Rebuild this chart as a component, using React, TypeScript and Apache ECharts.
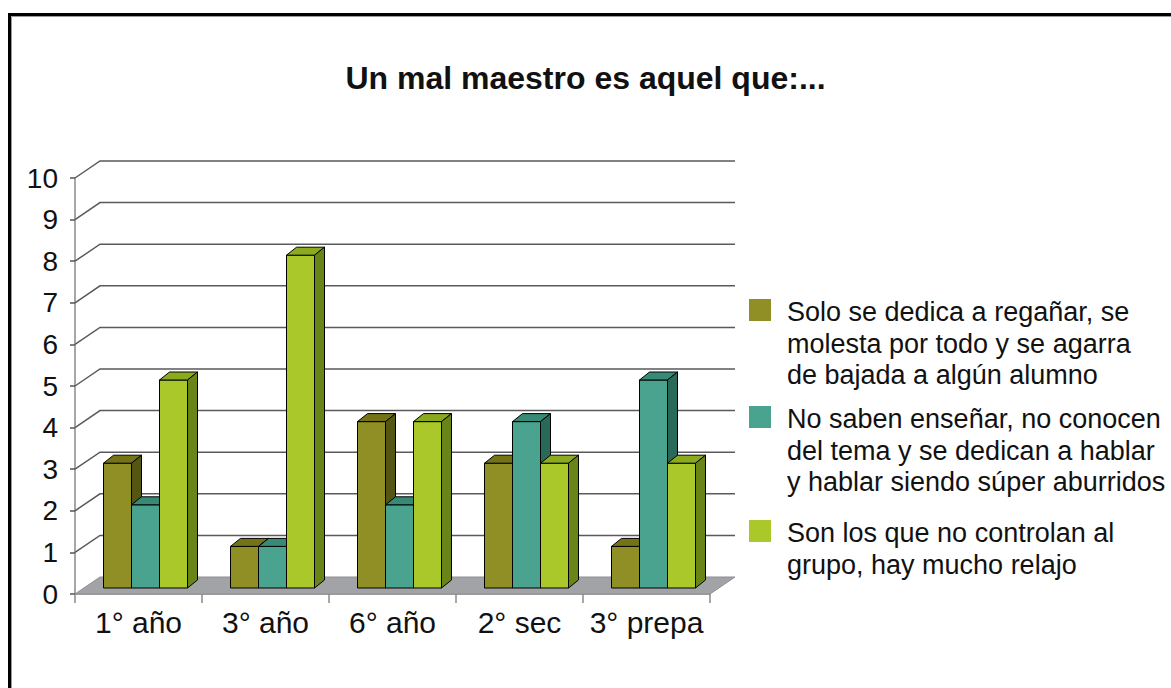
import React, { useEffect, useRef } from "react";
import * as echarts from "echarts";

const title = "Un mal maestro es aquel que:...";
const categories = ["1° año", "3° año", "6° año", "2° sec", "3° prepa"];
const yTicks = [0, 1, 2, 3, 4, 5, 6, 7, 8, 9, 10];
const seriesNames = [
  "Solo se dedica a regañar, se\nmolesta por todo y se agarra\nde bajada a algún alumno",
  "No saben enseñar, no conocen\ndel tema y se dedican a hablar\ny hablar siendo súper aburridos",
  "Son los que no controlan al\ngrupo, hay mucho relajo",
];
const regañarValues = [3, 1, 4, 3, 1];
const noSabenValues = [2, 1, 2, 4, 5];
const noControlanValues = [5, 8, 4, 3, 3];
const seriesValues = [regañarValues, noSabenValues, noControlanValues];
const frontColors = ["#8f8f26", "#4aa38e", "#aac82a"];
const topColors = ["#747416", "#378a76", "#8caa1d"];
const sideColors = ["#565614", "#28695a", "#6a8517"];

const FONT = "Liberation Sans, Arial, sans-serif";
const DEPTH_X = 25;
const DEPTH_Y = -17;
const BAR_FRAC = 28 / 127;
const BAR_SHIFT_X = 7;
const BAR_SHIFT_Y = 6;
const BAR_DX = 10;
const BAR_DY = -8;

function makeBarRender(i: number) {
  return (params: any, api: any) => {
    const c = api.value(0);
    const v = api.value(1);
    const base = api.coord([c, 0]);
    const top = api.coord([c, v]);
    const band = api.size([1, 0])[0];
    const bw = band * BAR_FRAC;
    const x0 = base[0] - 1.5 * bw + i * bw + BAR_SHIFT_X;
    const x1 = x0 + bw;
    const yb = base[1] - BAR_SHIFT_Y;
    const yt = top[1] - BAR_SHIFT_Y;
    const stroke = { stroke: "#000", lineWidth: 1, lineJoin: "round" };
    return {
      type: "group",
      children: [
        {
          type: "rect",
          shape: { x: x0, y: yt, width: bw, height: yb - yt },
          style: { fill: frontColors[i], ...stroke },
        },
        {
          type: "polygon",
          shape: {
            points: [
              [x0, yt],
              [x1, yt],
              [x1 + BAR_DX, yt + BAR_DY],
              [x0 + BAR_DX, yt + BAR_DY],
            ],
          },
          style: { fill: topColors[i], ...stroke },
        },
        {
          type: "polygon",
          shape: {
            points: [
              [x1, yt],
              [x1 + BAR_DX, yt + BAR_DY],
              [x1 + BAR_DX, yb + BAR_DY],
              [x1, yb],
            ],
          },
          style: { fill: sideColors[i], ...stroke },
        },
      ],
    };
  };
}

function frameRender(params: any, api: any) {
  const v = api.value(1);
  const cs = params.coordSys;
  const L = cs.x;
  const R = cs.x + cs.width;
  const y = api.coord([0, v])[1];
  if (v === 0) {
    return {
      type: "polygon",
      shape: {
        points: [
          [L, y],
          [R, y],
          [R + DEPTH_X, y + DEPTH_Y],
          [L + DEPTH_X, y + DEPTH_Y],
        ],
      },
      style: { fill: "#a2a3a7", stroke: "#8e8f93", lineWidth: 1 },
    };
  }
  return {
    type: "polyline",
    shape: {
      points: [
        [L, y],
        [L + DEPTH_X, y + DEPTH_Y],
        [R + DEPTH_X, y + DEPTH_Y],
      ],
    },
    style: { fill: "none", stroke: "#5a5a5a", lineWidth: 1.5 },
  };
}

export default function App() {
  const ref = useRef<HTMLDivElement>(null);
  useEffect(() => {
    document.body.style.margin = "0";
    const chart = echarts.init(ref.current!, null, { renderer: "svg" });
    const legendTops = [296, 403, 517];
    const legendGraphics: any[] = [];
    seriesNames.forEach((name, i) => {
      legendGraphics.push({
        type: "rect",
        shape: { x: 749, y: legendTops[i] + 3, width: 22, height: 22 },
        style: { fill: frontColors[i] },
      });
      legendGraphics.push({
        type: "text",
        x: 787,
        y: legendTops[i],
        style: {
          text: name,
          font: `27px ${FONT}`,
          fill: "#111",
          lineHeight: 31.7,
          verticalAlign: "top",
        },
      });
    });
    const option: any = {
      animation: false,
      backgroundColor: "#fff",
      title: {
        text: title,
        left: "center",
        top: 57,
        textStyle: { fontSize: 32, fontWeight: "bold", fontFamily: FONT, color: "#111" },
      },
      grid: { left: 75, top: 178, width: 635, height: 416 },
      xAxis: {
        type: "category",
        data: categories,
        axisLine: { show: true, lineStyle: { color: "#8a8a8a", width: 1.5 } },
        axisTick: { show: true, length: 9, lineStyle: { color: "#8a8a8a", width: 1.5 } },
        axisLabel: { interval: 0, fontSize: 30, fontFamily: FONT, color: "#111", margin: 13 },
        splitLine: { show: false },
      },
      yAxis: {
        type: "value",
        min: 0,
        max: 10,
        interval: 1,
        axisLine: { show: true, lineStyle: { color: "#8a8a8a", width: 1.5 } },
        axisTick: { show: true, length: 5, lineStyle: { color: "#555", width: 1.5 } },
        axisLabel: { fontSize: 28, fontFamily: FONT, color: "#111", margin: 17 },
        splitLine: { show: false },
      },
      graphic: [
        {
          type: "rect",
          shape: { x: 9.5, y: 14.5, width: 1400, height: 900 },
          style: { fill: "none", stroke: "#000", lineWidth: 3 },
          silent: true,
        },
        {
          type: "rect",
          shape: { x: 11.5, y: 16.5, width: 1400, height: 900 },
          style: { fill: "none", stroke: "#9a9a9a", lineWidth: 1 },
          silent: true,
        },
        ...legendGraphics,
      ],
      series: [
        {
          type: "custom",
          name: "frame",
          z: 1,
          silent: true,
          data: yTicks.map((v) => [0, v]),
          renderItem: frameRender,
        },
        ...seriesValues.map((vals, i) => ({
          type: "custom",
          name: seriesNames[i],
          z: 3,
          itemStyle: { color: frontColors[i] },
          data: vals.map((v, c) => [c, v]),
          renderItem: makeBarRender(i),
        })),
      ],
    };
    chart.setOption(option);
    return () => chart.dispose();
  }, []);
  return <div ref={ref} style={{ width: 1171, height: 688 }} />;
}
